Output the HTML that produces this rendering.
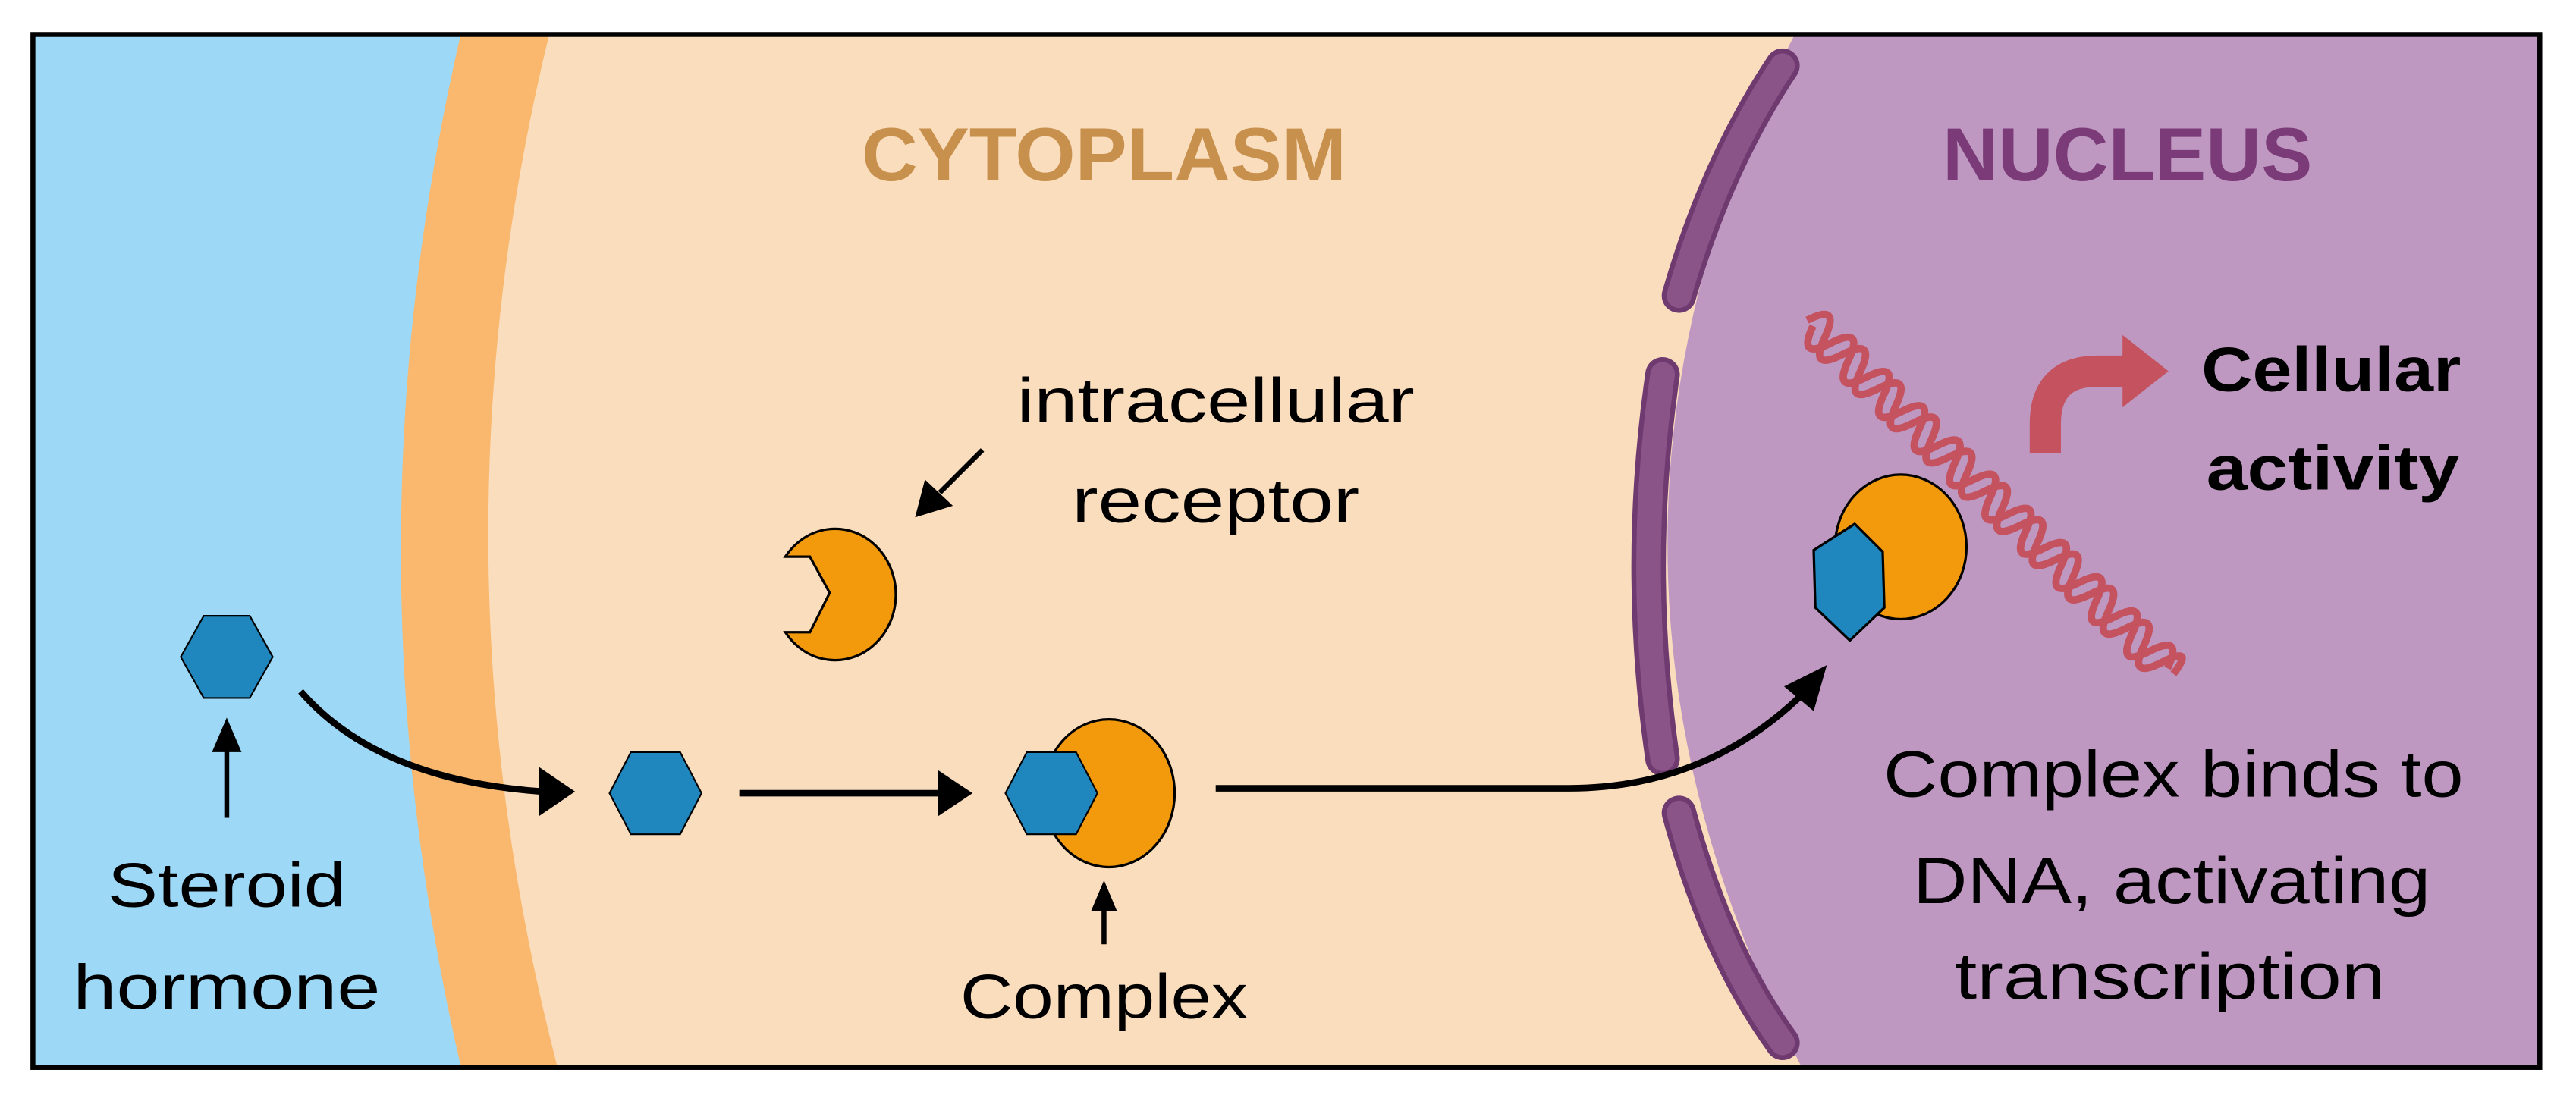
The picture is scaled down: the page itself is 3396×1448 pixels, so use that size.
<!DOCTYPE html>
<html><head><meta charset="utf-8"><style>html,body{margin:0;padding:0;background:#fff}svg{display:block}</style></head>
<body>
<svg width="3396" height="1448" viewBox="0 0 1568 668.6" xmlns="http://www.w3.org/2000/svg" font-family="'Liberation Sans', sans-serif">
<defs>
<clipPath id="fr"><rect x="20" y="21" width="1526" height="629"/></clipPath>
</defs>
<rect x="0" y="0" width="1568" height="669" fill="#fff"/>
<g clip-path="url(#fr)">
<rect x="20" y="21" width="1526" height="629" fill="#9DD9F6"/>
<path d="M283,10 Q205,335 283,660 L1600,660 L1600,10 Z" fill="#F9B86E"/>
<path d="M337,10 Q255,335 342,660 L1600,660 L1600,10 Z" fill="#FADDBD"/>
<path d="M1098,10 Q930,335 1102,660 L1600,660 L1600,10 Z" fill="#BE98C1"/>
<g fill="none" stroke-linecap="round">
<path d="M1085,40 Q1045,100 1022,180" stroke="#6E3A70" stroke-width="21"/>
<path d="M1085,40 Q1045,100 1022,180" stroke="#8A5489" stroke-width="15"/>
<path d="M1012,228 Q995,345 1012,462" stroke="#6E3A70" stroke-width="21"/>
<path d="M1012,228 Q995,345 1012,462" stroke="#8A5489" stroke-width="15"/>
<path d="M1022,495 Q1045,580 1085,635" stroke="#6E3A70" stroke-width="21"/>
<path d="M1022,495 Q1045,580 1085,635" stroke="#8A5489" stroke-width="15"/>
</g>
</g>
<rect x="20" y="21" width="1526" height="629" fill="none" stroke="#000" stroke-width="3"/>

<text x="672" y="110" text-anchor="middle" font-size="46" font-weight="bold" fill="#C8904D" textLength="295" lengthAdjust="spacingAndGlyphs">CYTOPLASM</text>
<text x="1295" y="110" text-anchor="middle" font-size="46" font-weight="bold" fill="#7B3B78" textLength="225" lengthAdjust="spacingAndGlyphs">NUCLEUS</text>

<!-- DNA -->
<g transform="translate(1100,195) rotate(44)" fill="none" stroke="#C4525F" stroke-width="4.5">
<path d="M0,0 Q7.5,-22 15,0 T30,0 T45,0 T60,0 T75,0 T90,0 T105,0 T120,0 T135,0 T150,0 T165,0 T180,0 T195,0 T210,0 T225,0 T240,0 T255,0 T270,0 T285,0 T300,0 T310,0"/>
<path d="M5,0 Q12.5,22 20,0 T35,0 T50,0 T65,0 T80,0 T95,0 T110,0 T125,0 T140,0 T155,0 T170,0 T185,0 T200,0 T215,0 T230,0 T245,0 T260,0 T275,0 T290,0 T305,0"/>
</g>

<!-- bent arrow -->
<path d="M1245,276 L1245,258 Q1245,226 1277,226 L1295,226" fill="none" stroke="#C4525F" stroke-width="19"/>
<polygon points="1292,204 1320,226 1292,248" fill="#C4525F"/>
<text x="1419" y="238" text-anchor="middle" font-size="38" font-weight="bold" textLength="158" lengthAdjust="spacingAndGlyphs">Cellular</text>
<text x="1420" y="298" text-anchor="middle" font-size="38" font-weight="bold" textLength="154" lengthAdjust="spacingAndGlyphs">activity</text>

<!-- nucleus complex -->
<ellipse cx="1157" cy="333" rx="40" ry="44" fill="#F39A0C" stroke="#000" stroke-width="1.5"/>
<polygon points="1129,319 1146,336 1147,370 1126,390 1105,370 1104,335" fill="#1F87BE" stroke="#000" stroke-width="1.5"/>

<!-- receptor -->
<path d="M478,339 L493,339 L505,361 L493,385 L478,385 A37,40 0 1 0 478,339 Z" fill="#F39A0C" stroke="#000" stroke-width="1.5"/>
<text x="740" y="257" text-anchor="middle" font-size="38" textLength="242" lengthAdjust="spacingAndGlyphs">intracellular</text>
<text x="740" y="318" text-anchor="middle" font-size="38" textLength="175" lengthAdjust="spacingAndGlyphs">receptor</text>
<line x1="598" y1="274" x2="572" y2="300" stroke="#000" stroke-width="3"/>
<polygon points="557,315 563,292 580,308" fill="#000"/>

<!-- hormone -->
<polygon points="110,400 124,375 152,375 166,400 152,425 124,425" fill="#1F87BE" stroke="#000" stroke-width="1"/>
<line x1="138" y1="498" x2="138" y2="455" stroke="#000" stroke-width="3"/>
<polygon points="129,458 138,437 147,458" fill="#000"/>
<text x="138" y="552" text-anchor="middle" font-size="38" textLength="145" lengthAdjust="spacingAndGlyphs">Steroid</text>
<text x="138" y="614" text-anchor="middle" font-size="38" textLength="187" lengthAdjust="spacingAndGlyphs">hormone</text>

<path d="M183,421 Q230,475 330,482" fill="none" stroke="#000" stroke-width="4"/>
<polygon points="328,467 350,482 328,497" fill="#000"/>

<polygon points="371,483 384,458 414,458 427,483 414,508 384,508" fill="#1F87BE" stroke="#000" stroke-width="1"/>
<line x1="450" y1="483" x2="575" y2="483" stroke="#000" stroke-width="4"/>
<polygon points="571,469 592,483 571,497" fill="#000"/>

<ellipse cx="675" cy="483" rx="40" ry="45" fill="#F39A0C" stroke="#000" stroke-width="1.5"/>
<polygon points="612,483 625,458 655,458 668,483 655,508 625,508" fill="#1F87BE" stroke="#000" stroke-width="1"/>
<line x1="672" y1="575" x2="672" y2="552" stroke="#000" stroke-width="3"/>
<polygon points="664,555 672,536 680,555" fill="#000"/>
<text x="672" y="620" text-anchor="middle" font-size="38" textLength="175" lengthAdjust="spacingAndGlyphs">Complex</text>

<path d="M740,480 L955,480 Q1040,480 1100,420" fill="none" stroke="#000" stroke-width="4"/>
<polygon points="1112,405 1104,433 1086,418" fill="#000"/>

<text x="1323" y="485" text-anchor="middle" font-size="40" textLength="353" lengthAdjust="spacingAndGlyphs">Complex binds to</text>
<text x="1322" y="550" text-anchor="middle" font-size="40" textLength="315" lengthAdjust="spacingAndGlyphs">DNA, activating</text>
<text x="1321" y="608" text-anchor="middle" font-size="40" textLength="262" lengthAdjust="spacingAndGlyphs">transcription</text>
</svg>
</body></html>
